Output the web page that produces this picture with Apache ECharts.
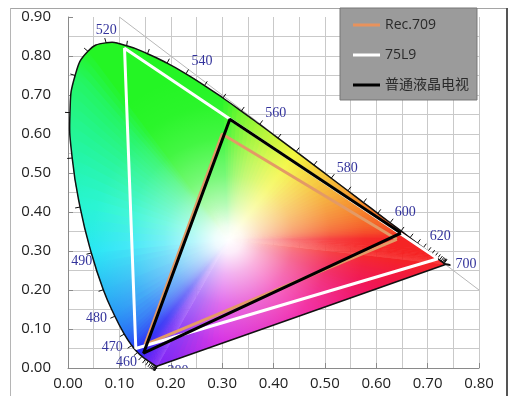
<!DOCTYPE html>
<html><head><meta charset="utf-8">
<script src="https://cdn.jsdelivr.net/npm/echarts@6/dist/echarts.min.js"></script>
<style>html,body{margin:0;padding:0;background:#fff}#c{width:524px;height:396px}</style>
</head><body><div id="c"></div>
<script>
// ---- data ----
const waves = [380,385,390,395,400,405,410,415,420,425,430,435,440,445,450,455,460,465,470,475,480,485,490,495,500,505,510,515,520,525,530,535,540,545,550,555,560,565,570,575,580,585,590,595,600,605,610,615,620,625,630,635,640,645,650,655,660,665,670,675,680,685,690,695,700];
const locusX = [0.17411,0.17401,0.17380,0.17356,0.17334,0.17302,0.17258,0.17209,0.17141,0.17030,0.16888,0.16690,0.16441,0.16110,0.15664,0.15099,0.14396,0.13550,0.12412,0.10959,0.09129,0.06871,0.04539,0.02346,0.00817,0.00386,0.01387,0.03885,0.07430,0.11416,0.15472,0.19288,0.22962,0.26578,0.30160,0.33736,0.37310,0.40874,0.44406,0.47877,0.51249,0.54479,0.57515,0.60293,0.62704,0.64823,0.66576,0.68008,0.69150,0.70061,0.70792,0.71403,0.71903,0.72303,0.72599,0.72827,0.72997,0.73109,0.73199,0.73272,0.73342,0.73405,0.73439,0.73459,0.73469];
const locusY = [0.00496,0.00498,0.00492,0.00492,0.00480,0.00478,0.00480,0.00483,0.00510,0.00579,0.00690,0.00855,0.01086,0.01379,0.01771,0.02274,0.02970,0.03988,0.05780,0.08684,0.13270,0.20072,0.29498,0.41270,0.53842,0.65482,0.75019,0.81202,0.83380,0.82621,0.80586,0.78163,0.75433,0.72432,0.69231,0.65885,0.62445,0.58961,0.55471,0.52020,0.48659,0.45443,0.42423,0.39650,0.37249,0.35139,0.33401,0.31975,0.30834,0.29930,0.29203,0.28593,0.28093,0.27695,0.27401,0.27173,0.27003,0.26891,0.26801,0.26728,0.26658,0.26595,0.26561,0.26541,0.26531];
const labelWaves = [380,460,470,480,490,520,540,560,580,600,620,700];
const whitePoint = [0.3127, 0.329];
const diagX = [0.1, 0.8];
const diagY = [0.9, 0.2];
const seriesNames = ['Rec.709', '75L9', '普通液晶电视'];
const rec709X = [0.64, 0.30, 0.15, 0.64];
const rec709Y = [0.33, 0.60, 0.06, 0.33];
const l75X = [0.72, 0.11, 0.132, 0.72];
const l75Y = [0.28, 0.82, 0.050, 0.28];
const lcdX = [0.648, 0.315, 0.147, 0.648];
const lcdY = [0.346, 0.638, 0.038, 0.346];
const xRange = [0, 0.8];
const yRange = [0, 0.9];
const tickStep = 0.1;

// ---- styles ----
const labelStyle = {
  380:{dx:10,dy:5,align:'left'}, 460:{dx:-5,dy:6,align:'right'}, 470:{dx:-9,dy:2,align:'right'},
  480:{dx:-8,dy:2,align:'right'}, 490:{dx:1,dy:8,align:'right'}, 520:{dx:0,dy:-12,align:'center'},
  540:{dx:16,dy:-12,align:'center'}, 560:{dx:16,dy:-11,align:'center'}, 580:{dx:16,dy:-10,align:'center'},
  600:{dx:15,dy:-10,align:'center'}, 620:{dx:17,dy:-11,align:'center'}, 700:{dx:10,dy:0,align:'left'}
};
const SMOOTH = 0.5;
const WHITE_R = 170;
const SUB = 4;        // shading sub-steps per spectral sector
const SUB_PURPLE = 48; // shading sub-steps along the line of purples
const purpleStops = [[0.24,[240,18,82]],[0.51,[240,18,160]],[0.78,[208,18,224]],[0.95,[130,32,242]]];

function gam(c){ return c <= 0.0031308 ? 12.92*c : 1.055*Math.pow(c,1/2.4)-0.055; }
function toRgb(x,y){
  const X=x/y, Y=1, Z=(1-x-y)/y;
  let r=3.2406*X-1.5372*Y-0.4986*Z, g=-0.9689*X+1.8758*Y+0.0415*Z, b=0.0557*X-0.2040*Y+1.0570*Z;
  r=Math.max(r,0); g=Math.max(g,0); b=Math.max(b,0);
  const m=Math.max(r,g,b)||1;
  return [gam(r/m),gam(g/m),gam(b/m)].map(v=>255*(0.14+0.82*v));
}
const rgb=c=>`rgb(${Math.round(c[0])},${Math.round(c[1])},${Math.round(c[2])})`;
const lerp=(a,b,t)=>a.map((v,k)=>v+(b[k]-v)*t);
function purpleColor(t, cRed, cViolet){
  const st=[[0,cRed]].concat(purpleStops,[[1,cViolet]]);
  for(let i=0;i<st.length-1;i++){ if(t<=st[i+1][0]) return lerp(st[i][1],st[i+1][1],(t-st[i][0])/(st[i+1][0]-st[i][0])); }
  return cViolet;
}

const n = waves.length;
const tickData = locusX.map((x,i)=>[x,locusY[i]]);
const labelData = labelWaves.map(w=>{const i=waves.indexOf(w);return [locusX[i],locusY[i],w];});
const pts=(xs,ys)=>xs.map((x,i)=>[x,ys[i]]);

const chart = echarts.init(document.getElementById('c'));
const axisCommon = {
  type:'value', interval:tickStep,
  axisLine:{show:true,onZero:false,lineStyle:{color:'#8a8a8a'}},
  axisTick:{show:true,inside:true,length:5,lineStyle:{color:'#8a8a8a'}},
  axisLabel:{formatter:v=>v.toFixed(2),color:'#222',fontSize:15,fontFamily:"'Open Sans', sans-serif"},
  splitLine:{show:true,lineStyle:{color:'#c9c9c9'}},
  minorTick:{show:false,splitNumber:2},
  minorSplitLine:{show:true,lineStyle:{color:'#c9c9c9'}}
};
function labelRender(params, api){
  const p = api.coord([api.value(0),api.value(1)]);
  const w = api.value(2), s = labelStyle[w];
  return {type:'text', x:p[0]+s.dx, y:p[1]+s.dy, style:{text:String(w), fill:'#34349c', font:"14px 'Liberation Serif', serif", align:s.align, verticalAlign:'middle'}};
}
function locusPx(api){ return locusX.map((x,i)=>api.coord([x,locusY[i]])); }

const option = {
  animation:false,
  grid:{left:68,right:45,top:17,bottom:28},
  xAxis:Object.assign({},axisCommon,{min:xRange[0],max:xRange[1],axisLabel:Object.assign({},axisCommon.axisLabel,{margin:8})}),
  yAxis:Object.assign({},axisCommon,{min:yRange[0],max:yRange[1],axisLabel:Object.assign({},axisCommon.axisLabel,{margin:17}),splitLine:{show:true,showMaxLine:false,lineStyle:{color:'#c9c9c9'}}}),
  legend:{
    data:seriesNames, left:340, top:8, orient:'vertical', backgroundColor:'#9b9b9b', borderColor:'#777', borderWidth:1,
    borderRadius:0, padding:[10,8,8,13], itemWidth:27, itemHeight:3, itemGap:16, icon:'rect',
    textStyle:{fontSize:14,color:'#2a2a2a',fontFamily:"'Open Sans', 'Noto Sans CJK SC', sans-serif"}, selectedMode:false
  },
  graphic:[
    {type:'line',silent:true,shape:{x1:10,y1:8.5,x2:507,y2:8.5},style:{stroke:'#a5a5a5',lineWidth:1}},
    {type:'line',silent:true,shape:{x1:10.5,y1:8,x2:10.5,y2:396},style:{stroke:'#b5b5b5',lineWidth:1}},
    {type:'line',silent:true,shape:{x1:507,y1:8,x2:507,y2:396},style:{stroke:'#555',lineWidth:2}}
  ],
  series:[
    {type:'line',name:'diag',silent:true,data:pts(diagX,diagY),symbol:'none',lineStyle:{color:'#b8b8b8',width:1},z:1},
    {type:'custom',name:'chromaticity',silent:true,data:[whitePoint],z:2,
     renderItem(params,api){
       const P=locusPx(api), w=api.coord(whitePoint);
       const ext=p=>[w[0]+1.8*(p[0]-w[0]), w[1]+1.8*(p[1]-w[1])];
       const cols=locusX.map((x,i)=>toRgb(x,locusY[i]));
       const children=[];
       const sp=[], sc=[];
       for(let i=0;i<n-1;i++){
         for(let k=0;k<SUB;k++){ sp.push(lerp(P[i],P[i+1],k/SUB)); sc.push(lerp(cols[i],cols[i+1],k/SUB)); }
       }
       for(let k=0;k<SUB_PURPLE;k++){ const t=k/SUB_PURPLE; sp.push(lerp(P[n-1],P[0],t)); sc.push(purpleColor(t,cols[n-1],cols[0])); }
       const m=sp.length;
       for(let j=0;j<m;j++){
         const a=sp[j], b=sp[(j+1)%m], c2=sp[(j+2)%m];
         const ca=sc[j], cb=sc[(j+1)%m];
         const d=Math.hypot(b[0]-a[0],b[1]-a[1]);
         let f;
         if(d<1) f=rgb(lerp(ca,cb,0.5));
         else f={type:'linear',x:a[0],y:a[1],x2:b[0],y2:b[1],global:true,colorStops:[{offset:0,color:rgb(ca)},{offset:1,color:rgb(cb)}]};
         children.push({type:'polygon',shape:{points:[w,ext(a),ext(b),ext(c2)]},style:{fill:f}});
       }
       children.push({type:'circle',shape:{cx:w[0],cy:w[1],r:WHITE_R},style:{fill:{type:'radial',x:w[0],y:w[1],r:WHITE_R,global:true,colorStops:[
         {offset:0,color:'rgba(255,255,255,1)'},{offset:0.08,color:'rgba(255,255,255,0.92)'},{offset:0.2,color:'rgba(255,255,255,0.68)'},
         {offset:0.38,color:'rgba(255,255,255,0.38)'},{offset:0.6,color:'rgba(255,255,255,0.14)'},{offset:0.8,color:'rgba(255,255,255,0.03)'},{offset:1,color:'rgba(255,255,255,0)'}]}}});
       return {type:'group',clipPath:{type:'polygon',shape:{points:P,smooth:SMOOTH}},children};
     }},
    {type:'custom',name:'locus',silent:true,data:[whitePoint],z:3,
     renderItem(params,api){
       return {type:'polygon',shape:{points:locusPx(api),smooth:SMOOTH},style:{fill:'none',stroke:'#111',lineWidth:1.5}};
     }},
    {type:'custom',name:'ticks',silent:true,data:tickData,z:3,
     renderItem(params,api){
       const i=params.dataIndex;
       const p=api.coord([locusX[i],locusY[i]]);
       const ia=Math.max(i-2,0), ib=Math.min(i+2,n-1);
       const a=api.coord([locusX[ia],locusY[ia]]), b=api.coord([locusX[ib],locusY[ib]]);
       const w=api.coord(whitePoint);
       let tx=b[0]-a[0],ty=b[1]-a[1],L=Math.hypot(tx,ty),nx,ny;
       if(L<2){nx=p[0]-w[0];ny=p[1]-w[1];L=Math.hypot(nx,ny);nx/=L;ny/=L;}
       else{nx=-ty/L;ny=tx/L;if((p[0]-w[0])*nx+(p[1]-w[1])*ny<0){nx=-nx;ny=-ny;}}
       return {type:'line',shape:{x1:p[0],y1:p[1],x2:p[0]+nx*5,y2:p[1]+ny*5},style:{stroke:'#111',lineWidth:1}};
     }},
    {type:'line',name:seriesNames[0],data:pts(rec709X,rec709Y),symbol:'none',lineStyle:{color:'#e39a66',width:3},itemStyle:{color:'#e8925c'},z:5},
    {type:'line',name:seriesNames[1],data:pts(l75X,l75Y),symbol:'none',lineStyle:{color:'#ffffff',width:3},itemStyle:{color:'#ffffff'},z:5},
    {type:'line',name:seriesNames[2],data:pts(lcdX,lcdY),symbol:'none',lineStyle:{color:'#000000',width:3},itemStyle:{color:'#000000'},z:6},
    {type:'custom',name:'wl',silent:true,data:labelData.filter(d=>d[2]!==380),z:7,renderItem:labelRender},
    {type:'custom',name:'wl380',silent:true,clip:true,data:labelData.filter(d=>d[2]===380),z:7,renderItem:labelRender}
  ]
};
chart.setOption(option);
</script></body></html>
